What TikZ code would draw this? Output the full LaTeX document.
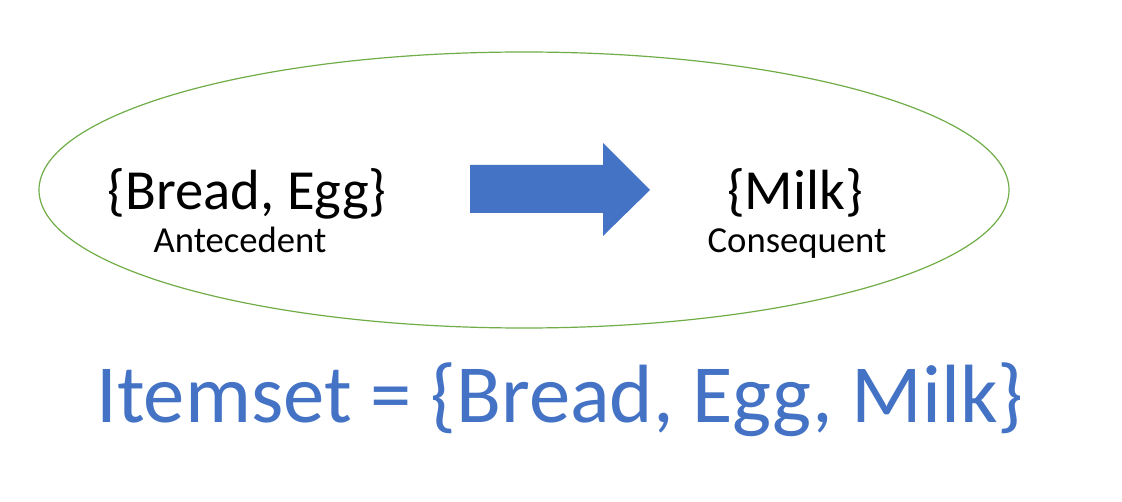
\documentclass[tikz,border=0pt]{standalone}
\usepackage{fontspec}
\setmainfont{Carlito}
\definecolor{offblue}{HTML}{4472C4}
\definecolor{offgreen}{HTML}{70AD47}
\begin{document}
\begin{tikzpicture}[x=0.75pt,y=-0.75pt,
  settext/.style={font=\fontsize{42.5pt}{50pt}\selectfont, anchor=base, inner sep=0pt, text=black},
  roletext/.style={font=\fontsize{27.5pt}{33pt}\selectfont, anchor=base, inner sep=0pt, text=black},
  bigtext/.style={font=\fontsize{62pt}{72pt}\selectfont, anchor=base, inner sep=0pt, text=offblue}]
\useasboundingbox[fill=white] (0,0) rectangle (1122,502);
\draw[offgreen, line width=0.9pt] (524,190) ellipse [x radius=485, y radius=138];
\fill[offblue] (470,165) -- (603,165) -- (603,143) -- (650,190) -- (603,236) -- (603,213) -- (470,213) -- cycle;
\node[settext] (ante) at (247,210) {\{Bread, Egg\}};
\node[roletext] (antel) at (240,253) {Antecedent};
\node[settext] (cons) at (795,210) {\{Milk\}};
\node[roletext] (consl) at (797,253) {Consequent};
\node[bigtext] (items) at (560,423) {Itemset = \{Bread, Egg, Milk\}};
\end{tikzpicture}
\end{document}
